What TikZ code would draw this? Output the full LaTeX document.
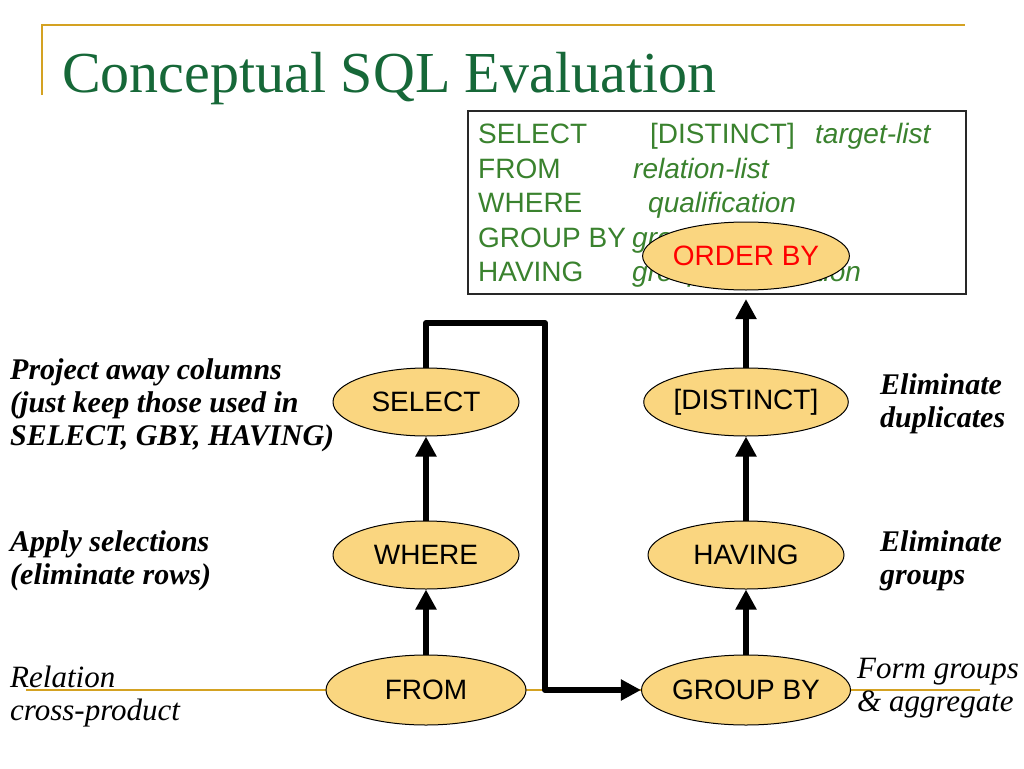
\documentclass[tikz,border=0pt]{standalone}
\usepackage{fontspec}
\setmainfont{Liberation Serif}
\newfontfamily\sansf{Liberation Sans}
\usetikzlibrary{arrows.meta,shapes.geometric}
\definecolor{titlegreen}{RGB}{22,104,56}
\definecolor{boxgreen}{RGB}{58,130,46}
\definecolor{gold}{RGB}{212,162,34}
\definecolor{ellfill}{RGB}{250,214,128}
\definecolor{boxedge}{RGB}{40,40,40}
\begin{document}
\begin{tikzpicture}[x=1pt,y=-1pt,
  oval/.style={ellipse, draw=black, line width=1pt, fill=ellfill, inner sep=0pt,
    minimum width=196pt, minimum height=68pt, font=\sansf\fontsize{28}{30}\selectfont},
  flow/.style={line width=6pt, -{Triangle[length=20pt,width=20pt]}},
  kw/.style={anchor=base west, inner sep=0pt, text=boxgreen, font=\sansf\fontsize{28}{30}\selectfont},
  arg/.style={anchor=base west, inner sep=0pt, text=boxgreen, font=\sansf\itshape\fontsize{28}{30}\selectfont},
  note/.style={align=left, anchor=west, inner sep=0pt, font=\bfseries\itshape\fontsize{30}{33}\selectfont},
  plainnote/.style={align=left, anchor=west, inner sep=0pt, font=\itshape\fontsize{31}{33}\selectfont},
  rule/.style={draw=gold, line width=2pt}
]
\useasboundingbox (0,0) rectangle (1024,768);
\fill[white] (0,0) rectangle (1024,768);
% decorative rules
\coordinate (t1) at (42,25);
\coordinate (t2) at (965,25);
\coordinate (t3) at (42,95);
\draw[rule] (t3) -- (t1) -- (t2);
\coordinate (b1) at (26,690);
\coordinate (b2) at (980,690);
\draw[rule] (b1) -- (b2);
% title
\node[anchor=base west, inner sep=0pt, text=titlegreen, font=\fontsize{58}{60}\selectfont] (title) at (62,92) {Conceptual SQL Evaluation};
% SQL box
\node[draw=boxedge, line width=1.5pt, fill=white, anchor=north west, inner sep=0pt,
  minimum width=498pt, minimum height=183pt] (box) at (467,110) {};
\node[kw] (k1) at (478,143) {SELECT};
\node[kw] (k2) at (478,178) {FROM};
\node[kw] (k3) at (478,212) {WHERE};
\node[kw] (k4) at (478,247) {GROUP BY};
\node[kw] (k5) at (478,281) {HAVING};
\node[kw] (a1) at (650,143) {[DISTINCT]};
\node[arg] (a1b) at (815,143) {target-list};
\node[arg] (a2) at (633,178) {relation-list};
\node[arg] (a3) at (648,212) {qualification};
\node[arg] (a4) at (632,247) {grouping-list};
\node[arg] (a5) at (632,281) {group-qualification};
\node[oval, text=red] (orderby) at (746,256) {ORDER BY};
% operator ellipses
\node[oval, minimum width=186pt] (select) at (426,402) {SELECT};
\node[oval, minimum width=186pt] (where) at (426,555) {WHERE};
\node[oval, minimum width=200pt, minimum height=70pt] (from) at (426,690) {FROM};
\node[oval] (distinct) at (746,402) {[DISTINCT]};
\node[oval] (having) at (746,555) {HAVING};
\node[oval, minimum width=200pt, minimum height=70pt] (groupby) at (746,690) {GROUP BY};
% flow arrows
\draw[flow] (from.north) -- (where.south);
\draw[flow] (where.north) -- (select.south);
\coordinate (r1) at (426,323);
\coordinate (r2) at (545,323);
\coordinate (r3) at (545,690);
\draw[flow, line join=round] (select.north) -- (r1) -- (r2) -- (r3) -- (groupby.west);
\draw[flow] (groupby.north) -- (having.south);
\draw[flow] (having.north) -- (distinct.south);
\coordinate (top) at (746,299);
\draw[flow] (distinct.north) -- (top);
% annotations
\node[note] (n1) at (10,405) {Project away columns\\(just keep those used in\\SELECT, GBY, HAVING)};
\node[note] (n2) at (10,561) {Apply selections\\(eliminate rows)};
\node[plainnote] (n3) at (10,697) {Relation\\cross-product};
\node[note] (n4) at (880,404) {Eliminate\\duplicates};
\node[note] (n5) at (880,561) {Eliminate\\groups};
\node[plainnote] (n6) at (857,688) {Form groups\\\& aggregate};
\end{tikzpicture}
\end{document}
